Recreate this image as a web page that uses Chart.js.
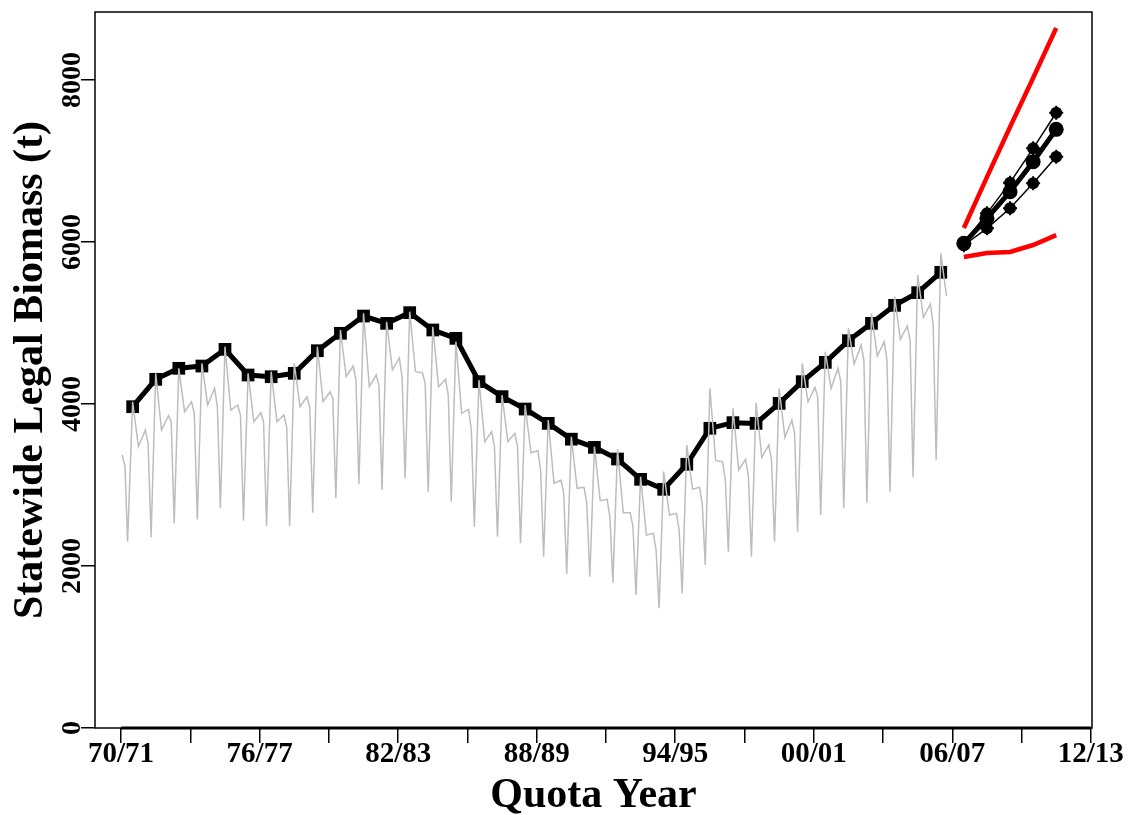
<!DOCTYPE html>
<html>
<head>
<meta charset="utf-8">
<title>Statewide Legal Biomass</title>
<script src="https://cdn.jsdelivr.net/npm/chart.js@4.4.1/dist/chart.umd.min.js"></script>
<style>
  html, body { margin: 0; padding: 0; background: #fff; }
  #wrap { width: 1130px; height: 815px; }
</style>
</head>
<body>
<div id="wrap"><canvas id="bioChart" width="1130" height="815"></canvas></div>
<script>
// quota years (first calendar year of each season)
const quotaYears = [
  1970, 1971, 1972, 1973, 1974, 1975, 1976, 1977, 1978, 1979,
  1980, 1981, 1982, 1983, 1984, 1985, 1986, 1987, 1988, 1989,
  1990, 1991, 1992, 1993, 1994, 1995, 1996, 1997, 1998, 1999,
  2000, 2001, 2002, 2003, 2004, 2005
];

// start-of-season legal biomass (t)
const legalBiomass = [
  3967, 4305, 4441, 4469, 4675, 4358, 4337, 4379, 4658, 4873,
  5086, 4996, 5128, 4914, 4811, 4276, 4091, 3938, 3761, 3566,
  3465, 3321, 3070, 2947, 3256, 3700, 3770, 3761, 4008, 4276,
  4514, 4782, 4996, 5218, 5375, 5626
];

// within-season biomass: peak, after early catch, mid-season moult, late, trough
const seasonPeak   = [4028, 4379, 4441, 4502, 4708, 4379, 4399, 4502, 4708, 4914, 5119, 5016, 5140, 4954, 4770, 4296, 4111, 3988, 3802, 3596, 3473, 3440, 3103, 3165, 3494, 4194, 3947, 4016, 4194, 4502, 4646, 4934, 5119, 5325, 5593, 5860];
const seasonDrop   = [3473, 3679, 3905, 3988, 3926, 3782, 3782, 3967, 4028, 4337, 4214, 4420, 4399, 4214, 3885, 3535, 3535, 3399, 3021, 2959, 2806, 2658, 2383, 2630, 2946, 3300, 3185, 3342, 3588, 4028, 4194, 4494, 4593, 4798, 5070, 5333];
const seasonMoult  = [3679, 3856, 4028, 4194, 3988, 3893, 3864, 4090, 4152, 4469, 4358, 4572, 4386, 4305, 3934, 3658, 3638, 3423, 3062, 2972, 2823, 2658, 2403, 2650, 2972, 3288, 3317, 3494, 3802, 4206, 4441, 4728, 4770, 4963, 5235];
const seasonLate   = [3515, 3782, 3885, 3967, 3864, 3782, 3720, 3967, 4070, 4305, 4222, 4330, 4255, 4111, 3679, 3473, 3473, 3185, 2898, 2774, 2609, 2486, 2198, 2444, 2774, 3062, 3103, 3309, 3638, 4090, 4276, 4543, 4543, 4790, 4975];
const seasonTrough = [2354, 2527, 2576, 2712, 2560, 2494, 2494, 2658, 2836, 3012, 2938, 3083, 2917, 2794, 2486, 2362, 2280, 2115, 1901, 1868, 1794, 1642, 1478, 1663, 2012, 2177, 2115, 2300, 2424, 2630, 2712, 2782, 2917, 3095, 3309];
// tail of the 69/70 season before the first peak
const leadIn = [[1970.05, 3370], [1970.17, 3226], [1970.28, 2300]];
// where each stage falls within a season (years after season start)
const seasonSteps = [0.5, 0.75, 1.05, 1.17, 1.30];

// projections
const projYears  = [2006, 2007, 2008, 2009, 2010];
const projMedian = [5984, 6293, 6621, 6991, 7391];
const projHigh   = [5984, 6354, 6733, 7157, 7596];
const projLow    = [5960, 6169, 6416, 6725, 7053];
const boundUpper = [6173, 6802, 7420, 8025, 8642];
const boundLower = [5815, 5864, 5877, 5963, 6086];

// axes
const xTickYears  = [1970, 1973, 1976, 1979, 1982, 1985, 1988, 1991, 1994, 1997, 2000, 2003, 2006, 2009, 2012];
const xTickLabels = ['70/71', '', '76/77', '', '82/83', '', '88/89', '', '94/95', '', '00/01', '', '06/07', '', '12/13'];
const yTicks = [0, 2000, 4000, 6000, 8000];

const FONT = "'Liberation Serif', 'Times New Roman', serif";

// build point lists
const mid = yr => yr + 0.5;
const annualPts = quotaYears.map((yr, i) => ({ x: mid(yr), y: legalBiomass[i] }));

const seasonPts = leadIn.map(p => ({ x: p[0], y: p[1] }));
const stages = [seasonPeak, seasonDrop, seasonMoult, seasonLate, seasonTrough];
quotaYears.forEach((yr, i) => {
  stages.forEach((arr, k) => {
    if (arr[i] !== undefined) seasonPts.push({ x: yr + seasonSteps[k], y: arr[i] });
  });
});

const proj = arr => projYears.map((yr, i) => ({ x: mid(yr), y: arr[i] }));

// box round the plot + heavier axis line between first and last tick
const frameBox = {
  id: 'frameBox',
  afterDraw(chart) {
    const { ctx, chartArea: a, scales: { x } } = chart;
    ctx.save();
    ctx.strokeStyle = '#000';
    ctx.lineWidth = 1.5;
    ctx.strokeRect(a.left, a.top, a.right - a.left, a.bottom - a.top);
    ctx.lineWidth = 3;
    ctx.beginPath();
    ctx.moveTo(x.getPixelForValue(xTickYears[0]), a.bottom);
    ctx.lineTo(x.getPixelForValue(xTickYears[xTickYears.length - 1]), a.bottom);
    ctx.stroke();
    ctx.restore();
  }
};

const crossSet = arr => ({
  data: proj(arr),
  showLine: false,
  pointStyle: 'cross',
  pointRadius: 7,
  pointBorderWidth: 2,
  pointBorderColor: '#000',
  borderColor: '#000'
});

const ctx = document.getElementById('bioChart').getContext('2d');
new Chart(ctx, {
  type: 'line',
  data: {
    datasets: [
      {
        label: 'within season',
        data: seasonPts,
        borderColor: '#bdbdbd',
        borderWidth: 1.5,
        pointRadius: 0
      },
      {
        label: 'start of season',
        data: annualPts,
        borderColor: '#000',
        borderWidth: 5,
        pointStyle: 'rect',
        pointRadius: 9,
        pointBackgroundColor: '#000',
        pointBorderWidth: 0
      },
      {
        label: 'median',
        data: proj(projMedian),
        borderColor: '#000',
        borderWidth: 5,
        pointStyle: 'circle',
        pointRadius: 7.5,
        pointBackgroundColor: '#000',
        pointBorderWidth: 0
      },
      {
        label: 'high',
        data: proj(projHigh),
        borderColor: '#000',
        borderWidth: 1.5,
        pointStyle: 'circle',
        pointRadius: 6,
        pointBackgroundColor: '#000',
        pointBorderWidth: 0
      },
      {
        label: 'low',
        data: proj(projLow),
        borderColor: '#000',
        borderWidth: 1.5,
        pointStyle: 'circle',
        pointRadius: 6,
        pointBackgroundColor: '#000',
        pointBorderWidth: 0
      },
      crossSet(projHigh),
      crossSet(projLow),
      {
        label: 'upper bound',
        data: proj(boundUpper),
        borderColor: '#ff0000',
        borderWidth: 4.5,
        pointRadius: 0
      },
      {
        label: 'lower bound',
        data: proj(boundLower),
        borderColor: '#ff0000',
        borderWidth: 4.5,
        pointRadius: 0
      }
    ]
  },
  options: {
    responsive: false,
    animation: false,
    devicePixelRatio: 1,
    layout: { padding: { left: 0, top: 12, right: 38, bottom: 0 } },
    elements: { line: { tension: 0 } },
    plugins: { legend: { display: false }, tooltip: { enabled: false } },
    scales: {
      x: {
        type: 'linear',
        min: 1968.87,
        max: 2012.05,
        afterBuildTicks: s => { s.ticks = xTickYears.map(v => ({ value: v })); },
        afterFit: s => { s.height = 87; },
        border: { display: false },
        grid: { drawOnChartArea: false, drawTicks: true, tickLength: 15, color: '#000', lineWidth: 1.5 },
        ticks: {
          autoSkip: false, maxRotation: 0, minRotation: 0, padding: -6,
          color: '#000',
          font: { family: FONT, size: 29, weight: 'bold' },
          callback: (v, i) => xTickLabels[i]
        },
        title: {
          display: true, text: 'Quota Year', color: '#000',
          font: { family: FONT, size: 42, weight: 'bold', lineHeight: 1 },
          padding: { top: 0, bottom: -2 }
        }
      },
      y: {
        min: 0,
        max: 8840,
        afterBuildTicks: s => { s.ticks = yTicks.map(v => ({ value: v })); },
        afterFit: s => { s.width = 95; },
        border: { display: false },
        grid: { drawOnChartArea: false, drawTicks: true, tickLength: 14, color: '#000', lineWidth: 1.5 },
        ticks: {
          autoSkip: false, minRotation: 90, maxRotation: 90, crossAlign: 'center', padding: -20,
          color: '#000',
          font: { family: FONT, size: 28, weight: 'bold' },
          callback: v => String(v)
        },
        title: {
          display: true, text: 'Statewide Legal Biomass (t)', color: '#000',
          font: { family: FONT, size: 42, weight: 'bold', lineHeight: 1 },
          padding: { top: 10, bottom: 0 }
        }
      }
    }
  },
  plugins: [frameBox]
});
</script>
</body>
</html>
